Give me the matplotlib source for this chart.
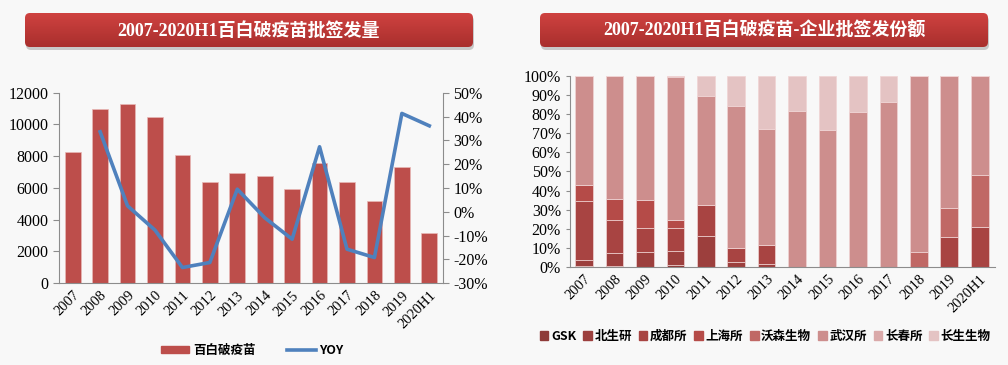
import numpy as np
import matplotlib
matplotlib.use("Agg")
import matplotlib.pyplot as plt
from matplotlib.patches import FancyBboxPatch, Patch
from matplotlib.lines import Line2D
from matplotlib.colors import LinearSegmentedColormap
from matplotlib.ticker import PercentFormatter

plt.rcParams['font.family'] = ['Liberation Serif', 'Noto Sans CJK SC']
plt.rcParams['axes.unicode_minus'] = False

years = ['2007', '2008', '2009', '2010', '2011', '2012', '2013', '2014',
         '2015', '2016', '2017', '2018', '2019', '2020H1']
# 批签发量
volume = [8250, 10950, 11300, 10450, 8050, 6350, 6950, 6750, 5950, 7600,
          6400, 5200, 7350, 3150]
# 同比 (%), 2007 无数据
yoy = [np.nan, 33.6, 2.5, -7.7, -23.4, -21.3, 9.5, -2.5, -11.5, 27.3,
       -15.7, -19.2, 41.3, 36.1]

companies = ['GSK', '北生研', '成都所', '上海所', '沃森生物', '武汉所', '长春所', '长生生物']
share = {
    'GSK':     [0.8, 0.5, 0.3, 1.0, 0, 0, 0, 0, 0, 0, 0, 0, 0, 0],
    '北生研':  [2.7, 7.0, 7.7, 7.5, 16.5, 2.5, 1.5, 0, 0, 0, 0.3, 0, 0, 0],
    '成都所':  [31.0, 17.0, 12.5, 12.0, 16.0, 7.5, 10.0, 0, 0, 0, 0, 0, 15.5, 21.0],
    '上海所':  [8.5, 11.0, 14.5, 4.0, 0, 0, 0, 0, 0, 0, 0, 0, 0, 0],
    '沃森生物': [0, 0, 0, 0, 0, 0, 0, 0, 0, 0, 0, 8.0, 15.5, 27.0],
    '武汉所':  [57.0, 64.5, 65.0, 75.0, 57.0, 74.0, 60.5, 81.5, 71.5, 81.0, 85.7, 92.0, 69.0, 52.0],
    '长春所':  [0, 0, 0, 0.5, 0, 0, 0, 0, 0, 0, 0, 0, 0, 0],
    '长生生物': [0, 0, 0, 0, 10.5, 16.0, 28.0, 18.5, 28.5, 19.0, 14.0, 0, 0, 0],
}
share_colors = ['#8e3a38', '#9c3f3d', '#a84442', '#b54b48', '#c06865',
                '#cd8e8d', '#daa9a9', '#e4c3c3']

bg = '#f8f8f8'
fig = plt.figure(figsize=(10.08, 3.65), dpi=100, facecolor=bg)

# ---- title banners ----
ov = fig.add_axes([0, 0, 1, 1], zorder=0)
ov.set_xlim(0, 1008)
ov.set_ylim(365, 0)
ov.axis('off')
grad = LinearSegmentedColormap.from_list('g', ['#cf4240', '#a92f2d'])
titles = ['2007-2020H1百白破疫苗批签发量', '2007-2020H1百白破疫苗-企业批签发份额']
for x0, t in zip([25, 540], titles):
    w, h, y0 = 448, 34, 13
    sh = FancyBboxPatch((x0 + 1, y0 + 3), w, h, boxstyle='round,pad=0,rounding_size=5',
                        fc='#9a9a9a', ec='none', alpha=0.5)
    ov.add_patch(sh)
    box = FancyBboxPatch((x0, y0), w, h, boxstyle='round,pad=0,rounding_size=5',
                         fc='none', ec='none')
    ov.add_patch(box)
    im = ov.imshow(np.linspace(0, 1, 50).reshape(-1, 1), cmap=grad, aspect='auto',
                   extent=[x0, x0 + w, y0 + h, y0], zorder=2)
    im.set_clip_path(box)
    ov.text(x0 + w / 2, y0 + h / 2 + 1, t, color='white', fontsize=13,
            fontweight='bold', ha='center', va='center', zorder=3)
ov.set_xlim(0, 1008)
ov.set_ylim(365, 0)

x = np.arange(len(years))
gray = '#8c8c8c'

# ---- left chart ----
ax = fig.add_axes([0.0585, 0.224, 0.381, 0.522], zorder=1)
ax.set_facecolor('none')
ax.bar(x, volume, width=0.57, color='#bd4e4b', edgecolor='#e8b8b6', linewidth=0.5,
       zorder=2)
ax.set_ylim(0, 12000)
ax.set_yticks(range(0, 12001, 2000))
ax.set_xlim(-0.5, len(years) - 0.5)
ax.set_xticks(x)
ax.set_xticklabels(years, rotation=45, ha='right', rotation_mode='anchor', fontsize=10.5)
ax.tick_params(axis='x', length=0, pad=4)
ax.tick_params(axis='y', labelsize=11.5, color=gray, length=4)
for s in ['top', 'right']:
    ax.spines[s].set_visible(False)
for s in ['left', 'bottom']:
    ax.spines[s].set_color(gray)

ax2 = ax.twinx()
ax2.plot(x, yoy, color='#4f81bd', linewidth=2.6, zorder=3)
ax2.set_ylim(-30, 50)
ax2.set_yticks(range(-30, 51, 10))
ax2.yaxis.set_major_formatter(PercentFormatter(decimals=0))
ax2.tick_params(axis='y', labelsize=11.5, color=gray, length=4)
for s in ['top', 'left', 'bottom']:
    ax2.spines[s].set_visible(False)
ax2.spines['right'].set_color(gray)

leg_font = {'family': 'Noto Sans CJK SC', 'weight': 'bold', 'size': 9}
fig.legend([Patch(color='#bd4e4b'), Line2D([], [], color='#4f81bd', linewidth=2.6)],
           ['百白破疫苗', 'YOY'], loc='center', bbox_to_anchor=(0.25, 0.04),
           ncol=2, frameon=False, prop=leg_font, handlelength=2.3, handleheight=0.55,
           handletextpad=0.3, columnspacing=2.5)

# ---- right chart ----
bx = fig.add_axes([0.5655, 0.268, 0.4215, 0.525], zorder=1)
bx.set_facecolor('none')
bottom = np.zeros(len(years))
handles = []
for name, col in zip(companies, share_colors):
    vals = np.array(share[name]) / 100
    bx.bar(x, vals, bottom=bottom, width=0.58, color=col, edgecolor='#f0d4d4',
           linewidth=0.5, zorder=2)
    bottom += vals
    handles.append(Patch(color=col))
bx.set_ylim(0, 1)
bx.set_yticks(np.arange(0, 1.01, 0.1))
bx.yaxis.set_major_formatter(PercentFormatter(xmax=1, decimals=0))
bx.set_xlim(-0.46, len(years) - 0.5)
bx.set_xticks(x)
bx.set_xticklabels(years, rotation=45, ha='right', rotation_mode='anchor', fontsize=10.5)
bx.tick_params(axis='x', length=0, pad=4)
bx.tick_params(axis='y', labelsize=11.5, color=gray, length=3)
for s in ['top', 'right']:
    bx.spines[s].set_visible(False)
for s in ['left', 'bottom']:
    bx.spines[s].set_color(gray)

fig.legend(handles, companies, loc='center', bbox_to_anchor=(0.759, 0.078),
           ncol=8, frameon=False, prop=leg_font, handlelength=0.7, handleheight=0.7,
           handletextpad=0.2, columnspacing=0.55)

fig.savefig('out.png', dpi=100, facecolor=bg)
